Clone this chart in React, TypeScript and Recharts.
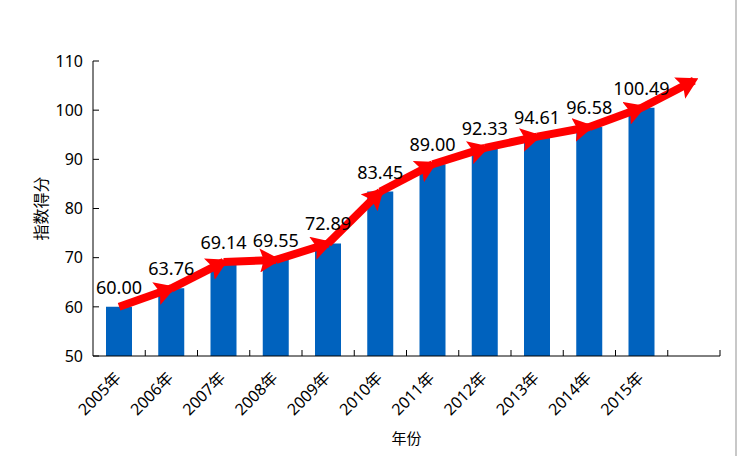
import React from 'react';
import { ComposedChart, Bar, Line, XAxis, YAxis, LabelList } from 'recharts';

const years = ['2005年', '2006年', '2007年', '2008年', '2009年', '2010年', '2011年', '2012年', '2013年', '2014年', '2015年', ''];
const scores = [60.0, 63.76, 69.14, 69.55, 72.89, 83.45, 89.0, 92.33, 94.61, 96.58, 100.49];
const trendEnd = 106;
const yTicks = [50, 60, 70, 80, 90, 100, 110];

const trend = [...scores, trendEnd];
const segCount = trend.length - 1;

const data = years.map((year, i) => {
  const row: Record<string, any> = { year, value: i < scores.length ? scores[i] : null };
  for (let s = 0; s < segCount; s++) {
    row['seg' + s] = i === s || i === s + 1 ? trend[i] : null;
  }
  return row;
});

const FONT = "'Noto Sans', 'Noto Sans CJK SC', sans-serif";

const XTick = (props: any) => {
  const { x, y, payload } = props;
  const off = payload && typeof payload.offset === 'number' ? payload.offset : 26.1;
  const tx = x + 3;
  const ty = y + 23;
  return (
    <g>
      <line x1={x + off} x2={x + off} y1={y} y2={y - 6} stroke="#000" strokeWidth={1} />
      {payload.value ? (
        <text x={tx} y={ty} transform={`rotate(-45, ${tx}, ${ty})`} textAnchor="end" fontSize={16} fill="#000" fontFamily={FONT}>
          {payload.value}
        </text>
      ) : null}
    </g>
  );
};

const segIndexes = Array.from({ length: segCount }, (_, s) => segCount - 1 - s);

export default function App() {
  return (
    <div style={{ position: 'absolute', left: 0, top: 0, width: 737, height: 456, background: '#fff', fontFamily: FONT }}>
      <svg width={0} height={0} style={{ position: 'absolute' }}>
        <defs>
          <marker id="arrowHead" viewBox="0 0 21 24" refX={16} refY={12} markerWidth={2.625} markerHeight={3} markerUnits="strokeWidth" orient="auto">
            <path d="M0,0 L21,12 L0,24 L4,12 Z" fill="#FF0000" />
          </marker>
        </defs>
      </svg>
      <ComposedChart width={737} height={456} data={data} margin={{ top: 61, right: 17, bottom: 0, left: 0 }}>
        <XAxis
          dataKey="year"
          interval={0}
          height={100}
          tickSize={0}
          tickMargin={0}
          tickLine={false}
          axisLine={{ stroke: '#000', strokeWidth: 1 }}
          tick={<XTick />}
          label={{
            content: (p: any) => {
              const vb = p.viewBox || { x: 93, y: 356, width: 627 };
              return (
                <text x={vb.x + vb.width / 2} y={vb.y + 88} textAnchor="middle" fontSize={15} fill="#000" fontFamily={FONT}>
                  年份
                </text>
              );
            },
          }}
        />
        <YAxis
          type="number"
          domain={[50, 110]}
          ticks={yTicks}
          interval={0}
          width={93}
          tickSize={-6}
          tickMargin={16}
          axisLine={{ stroke: '#000', strokeWidth: 1 }}
          tickLine={{ stroke: '#000', strokeWidth: 1 }}
          tick={{ fontSize: 16, fill: '#000', fontFamily: FONT }}
          label={{
            content: (p: any) => {
              const vb = p.viewBox || { x: 0, y: 61, width: 93, height: 295 };
              const cx = vb.x + 41;
              const cy = vb.y + vb.height / 2;
              return (
                <text x={cx} y={cy} transform={`rotate(-90, ${cx}, ${cy})`} textAnchor="middle" dominantBaseline="central" fontSize={16} fill="#000" fontFamily={FONT}>
                  指数得分
                </text>
              );
            },
          }}
        />
        <Bar dataKey="value" fill="#0062BE" barSize={26} isAnimationActive={false}>
          <LabelList
            dataKey="value"
            position="top"
            offset={13}
            fill="#000"
            fontSize={18}
            fontFamily={FONT}
            formatter={(v: any) => (v == null ? '' : Number(v).toFixed(2))}
          />
        </Bar>
        {segIndexes.map((s) => (
          <Line
            key={s}
            dataKey={'seg' + s}
            type="linear"
            stroke="#FF0000"
            strokeWidth={8}
            strokeLinejoin="round"
            dot={false}
            activeDot={false}
            connectNulls={false}
            markerEnd="url(#arrowHead)"
            isAnimationActive={false}
          />
        ))}
      </ComposedChart>
      <div style={{ position: 'absolute', left: 735, top: 0, width: 2, height: 456, background: '#C8C8C8' }} />
    </div>
  );
}
